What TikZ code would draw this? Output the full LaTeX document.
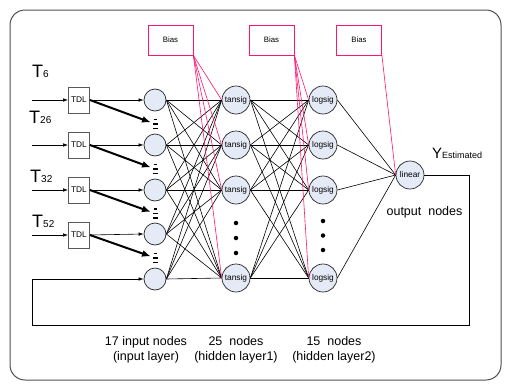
\documentclass[tikz,border=0pt]{standalone}
\usepackage{fontspec}
\setmainfont{Liberation Sans}
\usetikzlibrary{arrows.meta}
\definecolor{biasred}{RGB}{255,20,110}
\definecolor{nodefill}{RGB}{228,235,246}
\definecolor{framegray}{RGB}{80,80,80}
\begin{document}
\begin{tikzpicture}[x=1pt,y=-1pt,
 neuron/.style={circle,draw=black!85,fill=nodefill,line width=0.7pt,inner sep=0pt},
 innode/.style={neuron,minimum size=22pt},
 hidnode/.style={neuron,minimum size=28pt,font=\fontsize{8.3}{8.3}\selectfont},
 biasbox/.style={draw=biasred,line width=0.8pt,minimum width=45pt,minimum height=30pt,inner sep=0pt,font=\fontsize{7.8}{8}\selectfont},
 tdlbox/.style={draw=black!65,fill=white,line width=0.8pt,minimum width=21pt,minimum height=26pt,inner sep=0pt,font=\fontsize{8.3}{8}\selectfont},
 conn/.style={black,line width=0.6pt},
 biasline/.style={biasred,line width=0.6pt},
 inarrow/.style={line width=0.6pt,-{Latex[length=5pt,width=3.5pt]}},
 thickarrow/.style={line width=2pt,-{Latex[length=9pt,width=7pt]}},
 dotmark/.style={circle,fill=black,inner sep=0pt,minimum size=4.5pt},
 dashmark/.style={line width=1.4pt},
 lbl/.style={font=\fontsize{12.5}{15}\selectfont,align=center,inner sep=0pt},
 tlbl/.style={anchor=base west,inner sep=0pt}
]
\useasboundingbox (0,0) rectangle (507,391);
\draw[framegray,line width=1pt,rounded corners=15pt] (10,10) rectangle (501,380);

% bias boxes
\node[biasbox] (b1) at (170.5,40) {Bias};
\node[biasbox] (b2) at (271.5,40) {Bias};
\node[biasbox] (b3) at (359,40) {Bias};

% neurons
\foreach \i/\y in {1/100,2/145,3/190,4/234,5/279} \node[innode] (in\i) at (155,\y) {};
\foreach \i/\y in {1/100,2/145,3/190,4/278} \node[hidnode] (h\i) at (236,\y) {tansig};
\foreach \i/\y in {1/100,2/145,3/190,4/278} \node[hidnode] (g\i) at (323,\y) {logsig};
\node[hidnode] (out) at (410,175) {linear};

% full connections
\foreach \a in {1,...,5} \foreach \b in {1,...,4} \draw[conn] (in\a.east) -- (h\b.west);
\foreach \a in {1,...,4} \foreach \b in {1,...,4} \draw[conn] (h\a.east) -- (g\b.west);
\foreach \a in {1,...,4} \draw[conn] (g\a.east) -- (out.west);

% bias lines
\foreach \b in {1,...,4} \draw[biasline] (b1.south east) -- (h\b.west);
\foreach \b in {1,...,4} \draw[biasline] (b2.south east) -- (g\b.west);
\draw[biasline] (b3.south east) -- (out.west);

% dots
\foreach \y in {223,238,253} \node[dotmark] at (236,\y) {};
\foreach \y in {221,235.5,250} \node[dotmark] at (323,\y) {};

% TDL boxes and inputs
\foreach \i/\y in {1/100,2/145,3/190,4/235} {
  \node[tdlbox] (t\i) at (79,\y) {TDL};
  \coordinate (s\i) at (32,\y);
  \draw[inarrow] (s\i) -- (t\i.west);
}
\draw[inarrow] (t1.east) -- (in1.west);
\draw[inarrow] (t2.east) -- (in2.west);
\draw[inarrow] (t3.east) -- (in3.west);
\draw[inarrow] (t4.east) -- (in4.west);

% thick arrows and dashes
\foreach \i/\m in {1/122.5,2/167.5,3/212,4/256.5} {
  \coordinate (a\i) at (151,\m);
  \draw[thickarrow] (t\i.east) -- (a\i);
  \draw[dashmark] (154,\m-3) -- (157,\m-3);
  \draw[dashmark] (153,\m+1.5) -- (158,\m+1.5);
  \draw[dashmark] (153,\m+6) -- (158,\m+6);
}

% feedback
\coordinate (fb1) at (469,175);
\coordinate (fb2) at (469,325);
\coordinate (fb3) at (32,325);
\coordinate (fb4) at (32,279);
\draw[inarrow] (out.east) -- (fb1) -- (fb2) -- (fb3) -- (fb4) -- (in5.west);

% labels
\node[tlbl] (l6) at (32,77) {{\fontsize{18}{18}\selectfont T}{\fontsize{10}{10}\selectfont 6}};
\node[tlbl] (l26) at (29,123) {{\fontsize{18}{18}\selectfont T}{\fontsize{10}{10}\selectfont 26}};
\node[tlbl] (l32) at (30,182) {{\fontsize{18}{18}\selectfont T}{\fontsize{10}{10}\selectfont 32}};
\node[tlbl] (l52) at (32,227) {{\fontsize{18}{18}\selectfont T}{\fontsize{10}{10}\selectfont 52}};
\node[tlbl] (ylab) at (432,158) {{\fontsize{15}{15}\selectfont Y}{\fontsize{9}{9}\selectfont Estimated}};
\node[lbl] (olab) at (424.5,212) {output\ \ nodes};
\node[lbl] (c1) at (146,350) {17 input nodes\\(input layer)};
\node[lbl] (c2) at (236,350) {25\ \ nodes\\(hidden layer1)};
\node[lbl] (c3) at (334,350) {15\ \ nodes\\(hidden layer2)};
\end{tikzpicture}
\end{document}
